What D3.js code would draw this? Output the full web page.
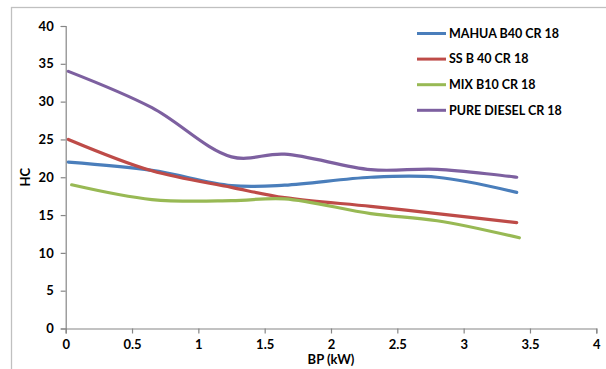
<!DOCTYPE html>
<html>
<head>
<meta charset="utf-8">
<script src="https://cdn.jsdelivr.net/npm/d3@7"></script>
<style>
  html, body { margin: 0; padding: 0; background: #fff; }
  svg { display: block; }
  text { font-family: Lato, "Open Sans", sans-serif; font-weight: bold; fill: #000; }
</style>
</head>
<body>
<svg id="chart" width="606" height="369"></svg>
<script>
// ---- data ----
const bp      = [0.02, 0.65, 1.25, 1.65, 2.3, 2.8, 3.4];
const bpMix   = [0.045, 0.65, 1.25, 1.65, 2.3, 2.8, 3.42];
const mahua   = [22, 20.9, 18.9, 18.95, 20.0, 20.0, 18];
const ssB40   = [25, 20.85, 18.66, 17.3, 16.15, 15.2, 14];
const mixB10  = [19, 17.05, 16.9, 17.15, 15.2, 14.25, 12];
const diesel  = [34, 29.2, 22.7, 23.05, 21.0, 21.05, 20];
const seriesNames = ["MAHUA B40 CR 18", "SS B 40 CR 18", "MIX B10 CR 18", "PURE DIESEL CR 18"];
const seriesColors = ["#4A7EBB", "#BE4B48", "#98B954", "#7D60A0"];
const xTicks = [0, 0.5, 1, 1.5, 2, 2.5, 3, 3.5, 4];
const yTicks = [0, 5, 10, 15, 20, 25, 30, 35, 40];
const xTitle = "BP (kW)";
const yTitle = "HC";

const series = [
  { name: seriesNames[0], x: bp, y: mahua, color: seriesColors[0] },
  { name: seriesNames[1], x: bp, y: ssB40, color: seriesColors[1] },
  { name: seriesNames[2], x: bpMix, y: mixB10, color: seriesColors[2] },
  { name: seriesNames[3], x: bp, y: diesel, color: seriesColors[3] }
];

const svg = d3.select("#chart");

// outer chart frame
svg.append("rect")
  .attr("x", 11.5).attr("y", 7.5)
  .attr("width", 620).attr("height", 400)
  .attr("fill", "none").attr("stroke", "#c0c0c0").attr("stroke-width", 1.3);

const x = d3.scaleLinear().domain([0, 4]).range([65.7, 596.3]);
const y = d3.scaleLinear().domain([0, 40]).range([328.5, 26]);

// axes
const xAxis = d3.axisBottom(x).tickValues(xTicks).tickSize(5).tickPadding(6)
  .tickFormat(d3.format("~g"));
const yAxis = d3.axisLeft(y).tickValues(yTicks).tickSize(5).tickPadding(7)
  .tickFormat(d3.format("~g"));

const gx = svg.append("g").attr("transform", `translate(0,${y(0)})`).call(xAxis);
const gy = svg.append("g").attr("transform", `translate(${x(0)},0)`).call(yAxis);
[gx, gy].forEach(g => {
  g.select(".domain").attr("stroke", "#868686").attr("stroke-width", 1.2);
  g.selectAll(".tick line").attr("stroke", "#868686").attr("stroke-width", 1.2);
  g.selectAll(".tick text").attr("font-size", 13).attr("font-family", "Lato, sans-serif")
    .attr("font-weight", "bold").attr("fill", "#000");
});

// axis titles
svg.append("text").attr("x", x(2)).attr("y", 364)
  .attr("text-anchor", "middle").attr("font-size", 13).text(xTitle);
svg.append("text")
  .attr("transform", `translate(30,${y(20)}) rotate(-90)`)
  .attr("text-anchor", "middle").attr("font-size", 13).text(yTitle);

// lines
const line = d3.line().curve(d3.curveCatmullRom.alpha(0.5))
  .x(d => x(d[0])).y(d => y(d[1]));

svg.append("g").selectAll("path").data(series).join("path")
  .attr("d", s => line(s.x.map((v, i) => [v, s.y[i]])))
  .attr("fill", "none")
  .attr("stroke", s => s.color)
  .attr("stroke-width", 3.2)
  .attr("stroke-linecap", "round")
  .attr("stroke-linejoin", "round");

// legend
const lg = svg.append("g").attr("transform", "translate(417,33.5)");
const rows = lg.selectAll("g").data(series).join("g")
  .attr("transform", (d, i) => `translate(0,${i * 25.6})`);
rows.append("line").attr("x1", 0).attr("x2", 29).attr("y1", 0).attr("y2", 0)
  .attr("stroke", d => d.color).attr("stroke-width", 3);
rows.append("text").attr("x", 32).attr("y", 0).attr("dy", "0.35em")
  .attr("font-size", 12.5).text(d => d.name);
</script>
</body>
</html>
